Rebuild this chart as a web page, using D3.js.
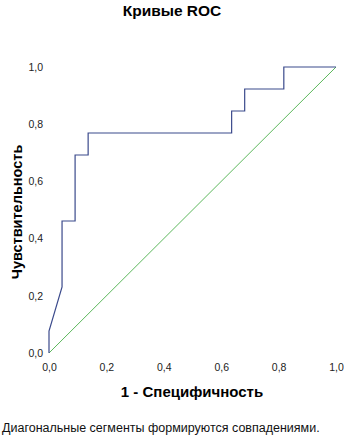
<!DOCTYPE html>
<html><head><meta charset="utf-8">
<script src="https://cdn.jsdelivr.net/npm/d3@7"></script>
<style>body{margin:0;background:#fff;}svg{display:block;font-family:"Liberation Sans",Arial,sans-serif;}</style>
</head><body>
<svg id="c" width="344" height="438"></svg>
<script>
const rocX = [0, 0, 1/22, 1/22, 2/22, 2/22, 3/22, 3/22, 14/22, 14/22, 15/22, 15/22, 18/22, 18/22, 1];
const rocY = [0, 1/13, 3/13, 6/13, 6/13, 9/13, 9/13, 10/13, 10/13, 11/13, 11/13, 12/13, 12/13, 1, 1];
const refX = [0, 1];
const refY = [0, 1];
const ticks = [0, 0.2, 0.4, 0.6, 0.8, 1.0];

const svg = d3.select("#c");
const x = d3.scaleLinear().domain([0,1]).range([49, 336]);
const y = d3.scaleLinear().domain([0,1]).range([353, 67]);
const fmt = d => d.toFixed(1).replace(".", ",");

svg.append("text").attr("x",172).attr("y",16).attr("text-anchor","middle")
  .attr("font-weight","bold").attr("font-size",15.5).text("Кривые ROC");

const xa = svg.append("g").attr("transform","translate(0,353)")
  .call(d3.axisBottom(x).tickValues(ticks).tickFormat(fmt).tickSize(0).tickPadding(11));
const ya = svg.append("g").attr("transform","translate(49,0)")
  .call(d3.axisLeft(y).tickValues(ticks).tickFormat(fmt).tickSize(0).tickPadding(6));
[xa, ya].forEach(a => {
  a.select(".domain").remove();
  a.selectAll("text").attr("font-size",10.5).attr("fill","#222").attr("font-family","Liberation Sans, Arial, sans-serif");
});

const line = d3.line().x(d => x(d[0])).y(d => y(d[1]));
svg.append("path").datum(refX.map((v,i)=>[v, refY[i]])).attr("d", line)
  .attr("fill","none").attr("stroke","#5cb85c").attr("stroke-width",1);
svg.append("path").datum(rocX.map((v,i)=>[v, rocY[i]])).attr("d", line)
  .attr("fill","none").attr("stroke","#3b4a8c").attr("stroke-width",1.2);

svg.append("text").attr("x",192).attr("y",397).attr("text-anchor","middle")
  .attr("font-weight","bold").attr("font-size",15).text("1 - Специфичность");
svg.append("text").attr("transform","translate(22,212) rotate(-90)").attr("text-anchor","middle")
  .attr("font-weight","bold").attr("font-size",14.5).text("Чувствительность");
svg.append("text").attr("x",2).attr("y",432).attr("font-size",12.5).attr("fill","#111")
  .text("Диагональные сегменты формируются совпадениями.");
</script>
</body></html>
